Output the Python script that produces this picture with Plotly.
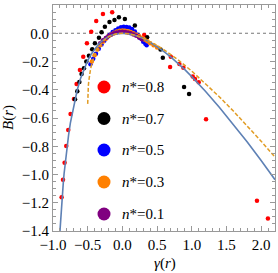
import plotly.graph_objects as go

# ---- simulation data: n* = 0.8 (red)
x_n08 = [-0.876, -0.856, -0.833, -0.809, -0.78, -0.747, -0.698, -0.66, -0.612, -0.564,
         -0.511, -0.449, -0.377, -0.28, -0.147, 0.314, 0.688, 0.698, 0.822, 0.879,
         1.014, 1.047, 1.10, 1.206, 1.94, 2.098]
y_n08 = [-1.161, -1.038, -0.916, -0.798, -0.685, -0.571, -0.465, -0.359, -0.26, -0.166,
         -0.071, 0.011, 0.087, 0.136, 0.148, -0.012, -0.239, -0.166, -0.218, -0.244,
         -0.307, -0.324, -0.347, -0.609, -1.185, -1.312]

# ---- n* = 0.7 (black)
x_n07 = [-0.683, -0.65, -0.62, -0.588, -0.554, -0.52, -0.482, -0.435, -0.396, -0.338,
         -0.30, -0.252, -0.186, -0.114, -0.05, 0.036, 0.18, 0.357, 0.55, 0.583, 0.889, 0.961]
y_n07 = [-0.467, -0.41, -0.345, -0.288, -0.248, -0.2, -0.159, -0.114, -0.071, -0.031,
         0.007, 0.046, 0.08, 0.094, 0.113, 0.101, 0.054, -0.029, -0.115, -0.173, -0.38, -0.43]

# ---- n* = 0.5 (blue)
x_n05 = [-0.46, -0.42, -0.38, -0.34, -0.30, -0.26, -0.22, -0.18, -0.14, -0.10, -0.06,
         -0.02, 0.02, 0.06, 0.10, 0.14, 0.18, 0.22, 0.26, 0.30, 0.33, 0.35]
y_n05 = [-0.22, -0.18, -0.145, -0.11, -0.08, -0.053, -0.03, -0.01, 0.008, 0.022, 0.034,
         0.042, 0.046, 0.045, 0.04, 0.03, 0.012, -0.01, -0.035, -0.06, -0.075, -0.085]

# ---- n* = 0.3 (orange)
x_n03 = [-0.44, -0.40, -0.36, -0.32, -0.28, -0.24, -0.20, -0.16, -0.12, -0.08, -0.04,
         0.0, 0.04, 0.08, 0.12, 0.16, 0.20, 0.24, 0.28, 0.32, 0.36, 0.40, 0.45, 0.50]
y_n03 = [-0.20, -0.155, -0.115, -0.085, -0.06, -0.04, -0.022, -0.008, 0.003, 0.012, 0.017,
         0.019, 0.018, 0.014, 0.008, 0.0, -0.01, -0.02, -0.032, -0.044, -0.056, -0.07, -0.085, -0.10]

# ---- n* = 0.1 (purple)
x_n01 = [-0.32, -0.28, -0.24, -0.20, -0.16, -0.12, -0.08, -0.04, 0.0, 0.04, 0.08, 0.12,
         0.16, 0.20, 0.24, 0.28]
y_n01 = [-0.07, -0.05, -0.033, -0.019, -0.008, 0.0, 0.006, 0.009, 0.010, 0.009, 0.006, 0.0,
         -0.008, -0.018, -0.03, -0.043]

# ---- solid blue curve
gamma_solid = [-0.90, -0.89, -0.88, -0.87, -0.86, -0.85, -0.84, -0.82, -0.80, -0.775, -0.75,
               -0.70, -0.65, -0.60, -0.55, -0.50, -0.45, -0.40, -0.35, -0.30, -0.25, -0.20,
               -0.15, -0.10, -0.05, 0.0, 0.1, 0.2, 0.3, 0.4, 0.5, 0.6, 0.7, 0.8, 0.9, 1.0,
               1.2, 1.4, 1.6, 1.8, 2.0, 2.2]
b_solid = [-1.403, -1.317, -1.240, -1.170, -1.106, -1.047, -0.993, -0.895, -0.809, -0.719, -0.636,
           -0.504, -0.400, -0.316, -0.249, -0.193, -0.148, -0.111, -0.081, -0.057, -0.038, -0.023,
           -0.0125, -0.0054, -0.0013, 0.0, -0.0047, -0.0177, -0.0376, -0.0635, -0.0945, -0.130,
           -0.169, -0.212, -0.258, -0.307, -0.412, -0.525, -0.645, -0.770, -0.901, -1.037]

# ---- dashed orange curve
gamma_dash = [-0.50, -0.499, -0.495, -0.49, -0.485, -0.48, -0.47, -0.46, -0.44, -0.42, -0.40,
              -0.35, -0.30, -0.25, -0.20, -0.15, -0.10, -0.05, 0.0, 0.1, 0.2, 0.3, 0.4, 0.5,
              0.6, 0.8, 1.0, 1.2, 1.4, 1.6, 1.8, 2.0, 2.2]
b_dash = [-0.50, -0.456, -0.405, -0.369, -0.342, -0.32, -0.285, -0.257, -0.214, -0.18, -0.153,
          -0.102, -0.068, -0.043, -0.025, -0.013, -0.0056, -0.0013, 0.0, -0.0046, -0.0168,
          -0.0351, -0.0584, -0.0858, -0.117, -0.1875, -0.268, -0.356, -0.451, -0.551, -0.655,
          -0.764, -0.876]

legend_labels = ["0.8", "0.7", "0.5", "0.3", "0.1"]
series_colors = ["#FF0000", "#000000", "#0000FF", "#FF8000", "#800080"]

series = [(x_n08, y_n08), (x_n07, y_n07), (x_n05, y_n05), (x_n03, y_n03), (x_n01, y_n01)]

SERIF = "Liberation Serif, Times New Roman, Times, serif"

fig = go.Figure()
for (xs, ys), c in zip(series, series_colors):
    fig.add_trace(go.Scatter(x=xs, y=ys, mode="markers",
                             marker=dict(color=c, size=4.5, line=dict(width=0)),
                             showlegend=False, hoverinfo="skip"))

fig.add_trace(go.Scatter(x=gamma_solid, y=b_solid, mode="lines",
                         line=dict(color="#5E81B5", width=1.6), showlegend=False,
                         hoverinfo="skip"))
fig.add_trace(go.Scatter(x=gamma_dash, y=b_dash, mode="lines",
                         line=dict(color="#E19C24", width=1.5, dash="4px,2px"),
                         showlegend=False, hoverinfo="skip"))

# plot area geometry (pixels)
L, R, T, B = 53, 3, 5, 42
W, H = 278, 273
pw, ph = W - L - R, H - T - B

def px2paper_x(px):
    return (px - L) / pw

def py2paper_y(py):
    return (H - B - py) / ph

shapes = [dict(type="line", xref="paper", yref="y", x0=0, x1=1, y0=0, y1=0,
               line=dict(color="#777777", width=1.2, dash="dot"), layer="below")]
annotations = []
leg_y = [87, 118.5, 150, 182, 214]
for lab, c, py in zip(legend_labels, series_colors, leg_y):
    shapes.append(dict(type="circle", xref="paper", yref="paper",
                       xsizemode="pixel", ysizemode="pixel",
                       xanchor=px2paper_x(104), yanchor=py2paper_y(py),
                       x0=-6.5, x1=6.5, y0=-6.5, y1=6.5,
                       fillcolor=c, line=dict(width=0)))
    annotations.append(dict(xref="paper", yref="paper", x=px2paper_x(120), y=py2paper_y(py),
                            xanchor="left", yanchor="middle", showarrow=False,
                            text="<i>n</i>*=" + lab,
                            font=dict(family=SERIF, size=15, color="black")))

annotations.append(dict(xref="paper", yref="paper", x=px2paper_x(165), y=py2paper_y(263),
                        xanchor="center", yanchor="middle", showarrow=False,
                        text="<i>γ</i>(<i>r</i>)",
                        font=dict(family=SERIF, size=15, color="black")))
annotations.append(dict(xref="paper", yref="paper", x=px2paper_x(8), y=py2paper_y(118),
                        xanchor="center", yanchor="middle", showarrow=False, textangle=-90,
                        text="<i>B</i>(<i>r</i>)",
                        font=dict(family=SERIF, size=15, color="black")))

axis_common = dict(showline=True, linecolor="#999999", linewidth=1, mirror="ticks",
                   ticks="inside", ticklen=5, tickcolor="#999999", tickwidth=1,
                   showgrid=False, zeroline=False, tickformat=".1f",
                   tickfont=dict(family=SERIF, size=15, color="black"))

fig.update_xaxes(range=[-1.0, 2.2], tick0=0, dtick=0.5,
                 minor=dict(ticks="inside", ticklen=3, dtick=0.1, tick0=0,
                            tickcolor="#999999", showgrid=False),
                 **axis_common)
fig.update_yaxes(range=[-1.4, 0.2], tick0=0, dtick=0.2,
                 minor=dict(ticks="inside", ticklen=3, dtick=0.05, tick0=0,
                            tickcolor="#999999", showgrid=False),
                 **axis_common)

fig.update_layout(width=W, height=H, margin=dict(l=L, r=R, t=T, b=B),
                  paper_bgcolor="white", plot_bgcolor="white",
                  font=dict(family=SERIF), hovermode=False,
                  shapes=shapes, annotations=annotations, showlegend=False)

fig.write_html("out.html", config={"displayModeBar": False},
               post_script="document.body.style.margin='0px';document.body.style.overflow='hidden';")
